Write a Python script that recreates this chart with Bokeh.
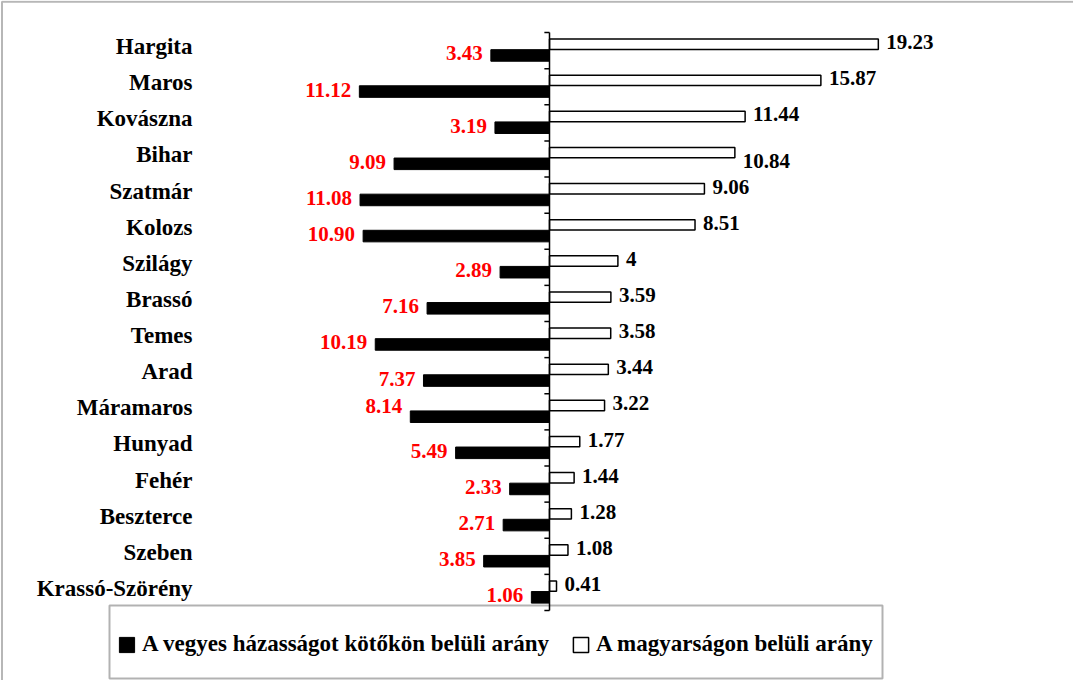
from bokeh.plotting import figure
from bokeh.models import Range1d, BoxAnnotation, Legend, LegendItem, ColumnDataSource
from bokeh.core.properties import value
from bokeh.embed import file_html
from bokeh.resources import INLINE

# ---- data ----
categories = ["Hargita", "Maros", "Kovászna", "Bihar", "Szatmár", "Kolozs", "Szilágy",
              "Brassó", "Temes", "Arad", "Máramaros", "Hunyad", "Fehér", "Beszterce",
              "Szeben", "Krassó-Szörény"]
mixed = [3.43, 11.12, 3.19, 9.09, 11.08, 10.90, 2.89, 7.16, 10.19, 7.37, 8.14, 5.49,
         2.33, 2.71, 3.85, 1.06]
hungarian = [19.23, 15.87, 11.44, 10.84, 9.06, 8.51, 4, 3.59, 3.58, 3.44, 3.22, 1.77,
             1.44, 1.28, 1.08, 0.41]
series_names = ["A vegyes házasságot kötőkön belüli arány", "A magyarságon belüli arány"]

# ---- geometry ----
W, H = 1073, 680
AX0 = 549.0          # canvas px of the zero line
SX = 17.1            # px per unit (x)
BAND = 36.125        # px per category band
TOP = 32.0           # canvas px of top band boundary
n = len(categories)
BOT = TOP + n * BAND

x0 = -AX0 / SX
x1 = (W - AX0) / SX
y_end = n + TOP / BAND
y_start = -(H - BOT) / BAND


def px2x(cx):
    return x0 + cx / SX


def px2y(cy):
    return y_end - cy / BAND


FONT = value("Liberation Serif")

centers = [n - 0.5 - i for i in range(n)]
yw = [c + 0.175 for c in centers]
yb = [c - 0.135 for c in centers]
# small label nudges as in the original (in band units)
nudge_w = {"Bihar": -0.28}
nudge_b = {"Máramaros": 0.25}
yw_lbl = [y + nudge_w.get(cat, 0) for y, cat in zip(yw, categories)]
yb_lbl = [y + nudge_b.get(cat, 0) for y, cat in zip(yb, categories)]

src = ColumnDataSource(dict(
    cat=categories,
    neg=[-v for v in mixed],
    hun=hungarian,
    yc=centers, yw=yw, yb=yb, ywl=yw_lbl, ybl=yb_lbl,
    hun_lbl=[f"{v:g}" for v in hungarian],
    mix_lbl=[f"{v:.2f}" for v in mixed],
))

p = figure(width=W, height=H, output_backend="svg", toolbar_location=None,
           x_range=Range1d(x0, x1), y_range=Range1d(y_start, y_end),
           x_axis_type=None, y_axis_type=None, min_border=0)
p.grid.visible = False
p.outline_line_color = None
p.background_fill_color = "white"
p.border_fill_color = "white"

rb = p.hbar(y="yb", left=0, right="neg", height=0.32, fill_color="black",
            line_color="black", source=src)
rw = p.hbar(y="yw", left=0, right="hun", height=0.29, fill_color="white",
            line_color="black", line_width=1.5, source=src)

# zero axis with ticks at band boundaries
p.segment(x0=0, y0=0, x1=0, y1=n, line_color="black", line_width=1.5)
p.segment(x0=[-0.3] * (n + 1), y0=list(range(n + 1)), x1=[0] * (n + 1),
          y1=list(range(n + 1)), line_color="black", line_width=1.5)

# value labels
p.text(x="hun", y="ywl", text="hun_lbl", source=src, x_offset=8, y_offset=-2,
       text_align="left", text_baseline="middle", text_font=FONT,
       text_font_style="bold", text_font_size="21px", text_color="black")
p.text(x="neg", y="ybl", text="mix_lbl", source=src, x_offset=-8, y_offset=-2,
       text_align="right", text_baseline="middle", text_font=FONT,
       text_font_style="bold", text_font_size="21px", text_color="#FF0000")

# category labels
p.text(x=px2x(192), y="yc", text="cat", source=src, text_align="right", y_offset=-4,
       text_baseline="middle", text_font=FONT, text_font_style="bold",
       text_font_size="23px", text_color="black")

# outer frame (only top/left visible)
p.add_layout(BoxAnnotation(left=px2x(1.5), right=px2x(3000), top=px2y(1.2), bottom=px2y(3000),
                           fill_color=None, line_color="#111111", line_width=2))
# legend box
p.add_layout(BoxAnnotation(left=px2x(109), right=px2x(882), top=px2y(605), bottom=px2y(678),
                           fill_color=None, line_color="black", line_width=2))

legend = Legend(items=[LegendItem(label=series_names[0], renderers=[rb]),
                       LegendItem(label=series_names[1], renderers=[rw])],
                location=(117, 23), orientation="horizontal",
                border_line_color=None, background_fill_alpha=0,
                padding=0, margin=0, spacing=22,
                glyph_width=19, glyph_height=19, label_standoff=6,
                label_text_font="Liberation Serif", label_text_font_style="bold",
                label_text_font_size="23px", label_text_color="black")
p.add_layout(legend)

open("out.html", "w").write(file_html(p, INLINE))
